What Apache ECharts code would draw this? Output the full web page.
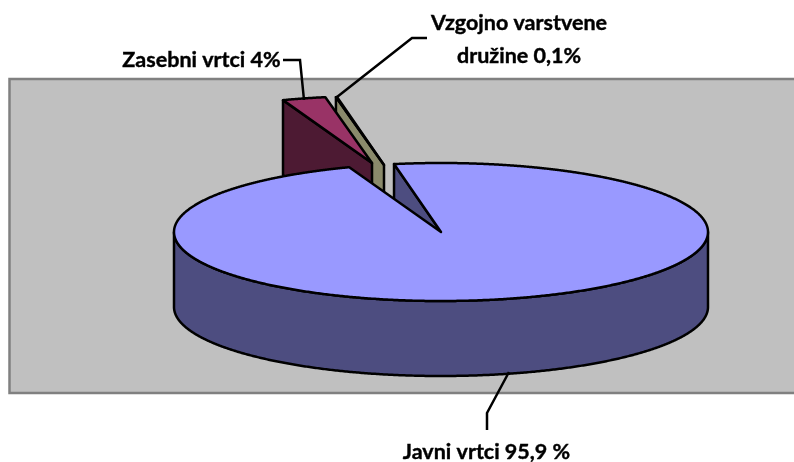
<!DOCTYPE html>
<html><head><meta charset="utf-8">
<style>html,body{margin:0;padding:0;background:#fff}#c{width:794px;height:462px}</style>
<script src="https://cdn.jsdelivr.net/npm/echarts@6/dist/echarts.min.js"></script>
</head><body><div id="c"></div>
<script>
// Data (painted back to front, going counter-clockwise from the first slice boundary)
const categories = ['Vzgojno varstvene družine', 'Zasebni vrtci', 'Javni vrtci'];
const values = [0.1, 4, 95.9];
const labels = ['Vzgojno varstvene\ndružine 0,1%', 'Zasebni vrtci 4%', 'Javni vrtci 95,9 %'];

// Presentation
const topColors = ['#8A8A6B', '#993366', '#9999FF'];
const wallColors = ['#8A8A6B', '#4D1A33', '#4D4D80'];
const centers = [[384, 165], [372, 163], [441, 232]];
const radiusScale = [1, 0.97, 1];
const RX = 267, RY = 69, DEPTH = 75, START = -15.3, PERSPECTIVE = 0.66;
const labelPos = [[519, 40], [201.5, 60], [486.5, 452]];
const leaders = [
  [[427, 38], [412, 38], [337, 97]],
  [[283, 60], [300, 60], [304, 100]],
  [[509, 372], [487, 413], [487, 430]]
];
const LINE = {stroke: '#000', lineWidth: 2.5, lineJoin: 'round'};
const total = values.reduce((a, b) => a + b, 0);

function phi(deg) {
  const h = deg / 2 * Math.PI / 180;
  return 2 * Math.atan(PERSPECTIVE * Math.tan(h));
}
function rim(c, r, deg, dy) {
  const p = phi(deg);
  return [c[0] + RX * r * Math.sin(p), c[1] - RY * r * Math.cos(p) + (dy || 0)];
}
function renderItem(params, api) {
  const i = params.dataIndex;
  let before = 0;
  for (let k = 0; k < i; k++) before += values[k];
  const end = START - before / total * 360 + (i === 2 ? 360 : 0);
  const start = end - api.value(0) / total * 360;
  const c = centers[i], r = radiusScale[i];
  const arc = [];
  const steps = Math.max(2, Math.ceil((end - start) / 0.25));
  for (let s = 0; s <= steps; s++) arc.push(start + (end - start) * s / steps);
  const children = [];
  // cut wall on the edge that faces the viewer
  const a = rim(c, r, start);
  children.push({type: 'polygon', shape: {points: [a, c, [c[0], c[1] + DEPTH], [a[0], a[1] + DEPTH]]},
    style: Object.assign({fill: wallColors[i]}, LINE)});
  // outer wall: the part of the rim in front of the centre
  const front = arc.filter(d => Math.cos(phi(d)) <= 0);
  if (front.length > 1) {
    const pts = front.map(d => rim(c, r, d)).concat(front.slice().reverse().map(d => rim(c, r, d, DEPTH)));
    children.push({type: 'polygon', shape: {points: pts}, style: Object.assign({fill: wallColors[i]}, LINE)});
  }
  // top face
  children.push({type: 'polygon', shape: {points: [c].concat(arc.map(d => rim(c, r, d)))},
    style: Object.assign({fill: topColors[i]}, LINE)});
  // leader + label
  children.push({type: 'polyline', shape: {points: leaders[i]}, style: {stroke: '#000', lineWidth: 2.5, fill: null}});
  children.push({type: 'text', x: labelPos[i][0], y: labelPos[i][1],
    style: {text: labels[i], font: 'bold 21.5px Lato', fill: '#000', stroke: '#000', lineWidth: 0.4, align: 'center', verticalAlign: 'middle', lineHeight: 33}});
  return {type: 'group', children};
}
const chart = echarts.init(document.getElementById('c'), null, {renderer: 'canvas'});
chart.setOption({
  animation: false,
  backgroundColor: '#fff',
  graphic: [{type: 'rect', z: -1, shape: {x: 9.5, y: 79, width: 800, height: 314},
    style: {fill: '#C0C0C0', stroke: '#808080', lineWidth: 2.5}}],
  series: [{
    type: 'custom', coordinateSystem: 'none', silent: true, clip: false,
    renderItem,
    data: values.map((v, i) => ({name: categories[i], value: [v]}))
  }]
});
</script></body></html>
